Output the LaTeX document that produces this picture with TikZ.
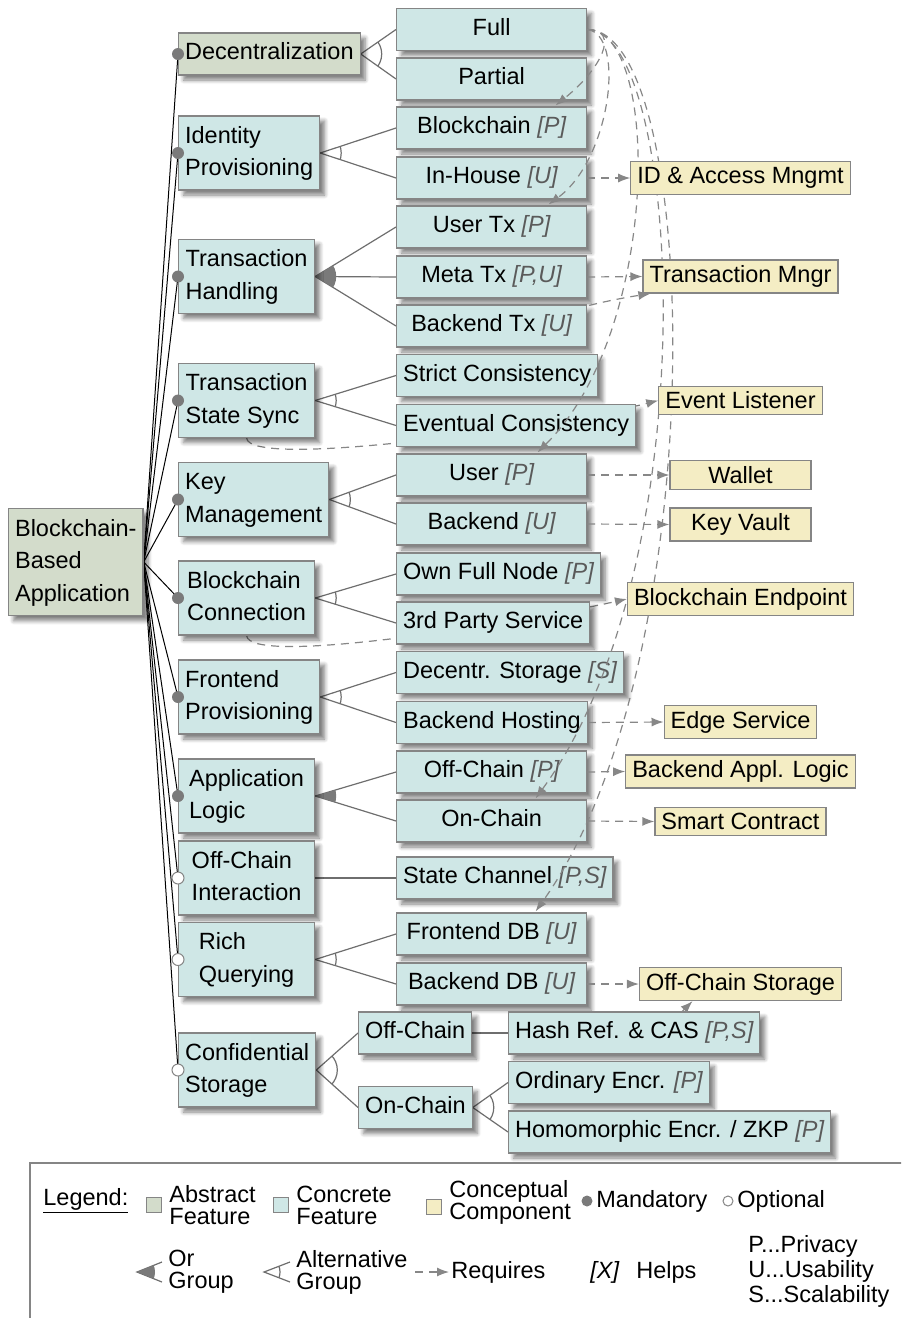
\documentclass[tikz,border=0pt]{standalone}
\usepackage{fontspec}
\setmainfont{Liberation Sans}
\usetikzlibrary{arrows.meta,shadows.blur}

\definecolor{absfill}{HTML}{D3DCCB}
\definecolor{concfill}{HTML}{CFE7E6}
\definecolor{compfill}{HTML}{F4EDC4}
\definecolor{boxgray}{HTML}{858585}
\definecolor{linegray}{HTML}{6E6E6E}
\definecolor{dashgray}{HTML}{878787}
\definecolor{helpgray}{HTML}{5A5A5A}
\definecolor{dotgray}{HTML}{7A7A7A}

% "helps" marker after a feature name
\newcommand{\hlp}[1]{{\color{helpgray}\itshape[#1]}}
% two-line feature label with uniform line heights
\newcommand{\two}[2]{\strut#1\\#2\strut}

% group markers: arc (alternative) or filled sector (or) between two edges
\newcommand{\altarc}[4][10.5pt]{%
  \begin{scope}
    \clip (#2) -- (#3) -- (#4) -- cycle;
    \draw[grp] (#2) circle[radius=#1];
  \end{scope}}
\newcommand{\orarc}[4][10.5pt]{%
  \begin{scope}
    \clip (#2) -- (#3) -- (#4) -- cycle;
    \fill[dotgray] (#2) circle[radius=#1];
  \end{scope}}

\pgfdeclarelayer{back}
\pgfdeclarelayer{front}
\pgfsetlayers{back,main,front}

\tikzset{
  txt/.style={font=\fontsize{11.75pt}{16.25pt}\selectfont},
  shade box/.style={blur shadow={shadow xshift=2.5pt, shadow yshift=-2.5pt,
      shadow blur steps=6, shadow blur radius=2pt, shadow opacity=50}},
  box/.style={txt, draw=boxgray, line width=0.6pt, inner xsep=3.25pt, inner ysep=2.25pt},
  oneline/.style={text height=8.8pt, text depth=2.9pt, minimum height=21pt},
  absfeat/.style={box, fill=absfill, shade box},
  concfeat/.style={box, fill=concfill, shade box},
  topfeat/.style={concfeat, align=left, minimum width=68pt, minimum height=37pt, anchor=west},
  subfeat/.style={concfeat, oneline, minimum width=95pt, anchor=west},
  leaf/.style={concfeat, oneline, anchor=west},
  comp/.style={box, fill=compfill, inner ysep=2.8pt, minimum width=70.5pt},
  rootline/.style={black, line width=0.5pt},
  grp/.style={linegray, line width=0.6pt},
  req/.style={dashgray, line width=0.6pt, dash pattern=on 4pt off 3pt,
      -{Latex[length=6pt,width=4.5pt]}},
  legtxt/.style={font=\fontsize{11.75pt}{11pt}\selectfont, align=left, anchor=west, inner sep=0pt},
  legsq/.style={draw=boxgray, line width=0.5pt, minimum size=7.5pt, inner sep=0pt},
}

\begin{document}
\begin{tikzpicture}[x=0.5pt, y=-0.5pt]
\useasboundingbox (0,0) rectangle (901,1318);
\clip (0,0) rectangle (901,1318);

% ---------- root and first-level features ----------
\node[absfeat, align=left, anchor=west, inner ysep=2.5pt] (root) at (8,562)
  {\strut Blockchain-\\Based\\Application\strut};

\node[absfeat, oneline, anchor=west] (dec) at (178,54) {Decentralization};
\node[topfeat] (idp) at (178,153)   {\two{Identity}{Provisioning}};
\node[topfeat] (txh) at (178,276.5) {\two{Transaction}{Handling}};
\node[topfeat] (tss) at (178,400.5) {\two{Transaction}{State Sync}};
\node[topfeat] (key) at (178,499.5) {\two{Key}{Management}};
\node[topfeat] (bcc) at (178,598)   {\two{Blockchain}{Connection}};
\node[topfeat] (fep) at (178,697)   {\two{Frontend}{Provisioning}};
\node[topfeat] (apl) at (178,796)   {\two{Application}{Logic}};
\node[topfeat] (oci) at (178,878)   {\two{Off-Chain}{Interaction}};
\node[topfeat] (rqu) at (178,959.5) {\two{Rich}{Querying}};
\node[topfeat] (cst) at (178,1070)  {\two{Confidential}{Storage}};

% ---------- concrete sub-features ----------
\node[subfeat] (full)    at (396,29.5)  {Full};
\node[subfeat] (partial) at (396,79)    {Partial};
\node[subfeat] (bcp)     at (396,128)   {Blockchain \hlp{P}};
\node[subfeat] (ihs)     at (396,178)   {In-House \hlp{U}};
\node[subfeat] (utx)     at (396,227)   {User Tx \hlp{P}};
\node[subfeat] (mtx)     at (396,277)   {Meta Tx \hlp{P,U}};
\node[subfeat] (btx)     at (396,326)   {Backend Tx \hlp{U}};
\node[subfeat] (sc)      at (396,375.5) {Strict Consistency};
\node[subfeat] (ec)      at (396,425.5) {Eventual Consistency};
\node[subfeat] (ukm)     at (396,475)   {User \hlp{P}};
\node[subfeat] (bkm)     at (396,524)   {Backend \hlp{U}};
\node[subfeat] (ofn)     at (396,574)   {Own Full Node \hlp{P}};
\node[subfeat] (tps)     at (396,623)   {3rd Party Service};
\node[subfeat] (dst)     at (396,672.5) {Decentr. Storage \hlp{S}};
\node[subfeat] (bho)     at (396,722.5) {Backend Hosting};
\node[subfeat] (ocl)     at (396,772)   {Off-Chain \hlp{P}};
\node[subfeat] (onl)     at (396,821)   {On-Chain};
\node[subfeat] (sch)     at (396,878)   {State Channel \hlp{P,S}};
\node[subfeat] (fdb)     at (396,934)   {Frontend DB \hlp{U}};
\node[subfeat] (bdb)     at (396,984)   {Backend DB \hlp{U}};

\node[leaf] (coff) at (358,1033)   {Off-Chain};
\node[leaf] (con)  at (358,1107.5) {On-Chain};
\node[leaf] (hash) at (508,1033)   {Hash Ref. \& CAS \hlp{P,S}};
\node[leaf] (ord)  at (508,1082.5) {Ordinary Encr. \hlp{P}};
\node[leaf] (hom)  at (508,1132)   {Homomorphic Encr. / ZKP \hlp{P}};

% ---------- requirements of full decentralization (over the feature boxes) ----------
\draw[req] (full.east) .. controls +(34,0) and +(45,-36) .. ([shift={(64,-1)}]bcp.north);
\draw[req] (full.east) .. controls +(39,5) and +(62,-45) .. ([shift={(57,-1)}]utx.north);
\draw[req] (full.east) .. controls +(74,0) and +(123,-122) .. ([shift={(46,-1)}]ukm.north);
\draw[req] (full.east) .. controls +(94,0) and +(175,-239) .. ([shift={(44,-1)}]onl.north);
\draw[req] (full.east) .. controls +(114,0) and +(180,-252) .. ([shift={(44,-1)}]fdb.north);

% ---------- conceptual components ----------
\node[comp] (idam) at (740.5,178)   {ID \& Access Mngmt};
\node[comp] (txm)  at (740.5,276.5) {Transaction Mngr};
\node[comp] (evl)  at (740.5,400.5) {Event Listener};
\node[comp] (wal)  at (740.5,475)   {Wallet};
\node[comp] (kv)   at (740.5,524.5) {Key Vault};
\node[comp] (bep)  at (740.5,599)   {Blockchain Endpoint};
\node[comp] (edge) at (740.5,722)   {Edge Service};
\node[comp] (bal)  at (740.5,771.5) {Backend Appl. Logic};
\node[comp] (smc)  at (740.5,821.5) {Smart Contract};
\node[comp] (ocs)  at (740.5,984)   {Off-Chain Storage};

\foreach \a/\b in {ihs/idam, mtx/txm, ukm/wal, bkm/kv, bho/edge, ocl/bal, onl/smc, bdb/ocs}
  \draw[req] (\a.east) -- (\b.west);
\draw[req] ([shift={(2,1)}]btx.north east) .. controls +(20,-5) and +(-20,3) .. ([shift={(8,0)}]txm.south west);
\draw[req] ([shift={(48,0)}]hash.north) -- ([shift={(-48,0)}]ocs.south);

% ---------- edges behind the boxes ----------
\begin{pgfonlayer}{back}
  \foreach \n in {dec,idp,txh,tss,key,bcc,fep,apl,oci,rqu,cst}
    \draw[rootline] (root.east) -- (\n.west);
  \foreach \p/\c in {dec/full, dec/partial, idp/bcp, idp/ihs, txh/utx, txh/mtx, txh/btx,
                     tss/sc, tss/ec, key/ukm, key/bkm, bcc/ofn, bcc/tps, fep/dst, fep/bho,
                     apl/ocl, apl/onl, oci/sch, rqu/fdb, rqu/bdb, cst/coff, cst/con,
                     coff/hash, con/ord, con/hom}
    \draw[grp] (\p.east) -- (\c.west);
  \altarc{dec.east}{full.west}{partial.west}
  \altarc{idp.east}{bcp.west}{ihs.west}
  \orarc{txh.east}{utx.west}{btx.west}
  \altarc{tss.east}{sc.west}{ec.west}
  \altarc{key.east}{ukm.west}{bkm.west}
  \altarc{bcc.east}{ofn.west}{tps.west}
  \altarc{fep.east}{dst.west}{bho.west}
  \orarc{apl.east}{ocl.west}{onl.west}
  \altarc{rqu.east}{fdb.west}{bdb.west}
  \altarc{cst.east}{coff.west}{con.west}
  \altarc{con.east}{ord.west}{hom.west}
  \draw[req] (tss.south) .. controls +(3,32) and +(-99,25) .. (evl.west);
  \draw[req] (bcc.south) .. controls +(3,32) and +(-99,22) .. (bep.west);
\end{pgfonlayer}

% ---------- mandatory / optional markers ----------
\begin{pgfonlayer}{front}
  \foreach \n in {dec,idp,txh,tss,key,bcc,fep,apl}
    \fill[dotgray] (\n.west) circle[radius=3pt];
  \foreach \n in {oci,rqu,cst}
    \draw[boxgray, fill=white, line width=0.5pt] (\n.west) circle[radius=3pt];
\end{pgfonlayer}

% ---------- legend ----------
\draw[boxgray, line width=0.6pt] (30,1163) rectangle (940,1360);
\node[legtxt] (lg) at (43,1201) {\underline{Legend:}};
\node[legsq, fill=absfill]  (sqa) at (153.5,1205) {};
\node[legtxt] (la) at (169,1205) {Abstract\\Feature};
\node[legsq, fill=concfill] (sqc) at (281,1205) {};
\node[legtxt] (lc) at (296,1205) {Concrete\\Feature};
\node[legsq, fill=compfill] (sqk) at (434,1207) {};
\node[legtxt] (lk) at (449,1202) {Conceptual\\Component};
\fill[dotgray] (587,1201) circle[radius=2.75pt];
\node[legtxt] (lm) at (596,1201) {Mandatory};
\draw[boxgray, line width=0.5pt] (728,1201) circle[radius=2.5pt];
\node[legtxt] (lo) at (737,1201) {Optional};

\coordinate (ora) at (137,1272);
\coordinate (orb) at (162,1262);
\coordinate (orc) at (162,1282);
\draw[grp] (orb) -- (ora) -- (orc);
\orarc[9pt]{ora}{orb}{orc}
\node[legtxt] (lor) at (168,1272) {Or\\Group};

\coordinate (ala) at (264,1272);
\coordinate (alb) at (290,1262);
\coordinate (alc) at (290,1282);
\draw[grp] (alb) -- (ala) -- (alc);
\altarc[8pt]{ala}{alb}{alc}
\node[legtxt] (lal) at (296,1272) {Alternative\\Group};

\coordinate (rqa) at (415,1272);
\coordinate (rqb) at (449,1272);
\draw[req] (rqa) -- (rqb);
\node[legtxt] (lr) at (451,1272) {Requires};
\node[legtxt] (lx) at (590,1272) {\itshape[X]};
\node[legtxt] (lh) at (636,1272) {Helps};
\node[legtxt, font=\fontsize{11.75pt}{12.5pt}\selectfont] (lp) at (748,1271)
  {P...Privacy\\U...Usability\\S...Scalability};
\end{tikzpicture}
\end{document}
